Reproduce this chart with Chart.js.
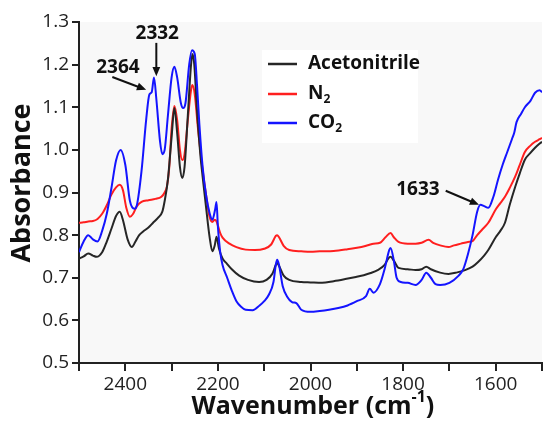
<!DOCTYPE html>
<html>
<head>
<meta charset="utf-8">
<script src="https://cdn.jsdelivr.net/npm/chart.js@4/dist/chart.umd.min.js"></script>
<style>
  html, body { margin: 0; padding: 0; background: #ffffff; }
  #wrap { width: 544px; height: 424px; }
</style>
</head>
<body>
<div id="wrap"><canvas id="myChart" width="544" height="424"></canvas></div>
<script>
// wavenumber (cm-1) and absorbance, one pair of arrays per spectrum
const acnWn = [2500, 2490, 2480, 2470, 2462, 2450, 2440, 2430, 2420, 2412, 2405, 2395, 2386, 2378, 2370, 2362, 2350, 2340, 2330, 2320, 2315, 2308, 2300, 2294, 2288, 2282, 2277, 2272, 2265, 2258, 2255, 2251, 2245, 2238, 2233, 2225, 2218, 2212, 2207, 2203, 2198, 2190, 2182, 2170, 2154, 2135, 2111, 2095, 2082, 2075, 2072, 2068, 2058, 2046, 2020, 2000, 1975, 1950, 1925, 1902, 1885, 1870, 1855, 1840, 1832, 1827, 1820, 1810, 1790, 1773, 1760, 1750, 1740, 1720, 1702, 1685, 1666, 1650, 1638, 1625, 1616, 1600, 1590, 1580, 1570, 1558, 1548, 1537, 1525, 1515, 1505, 1500]
const acnAbs = [0.745, 0.750, 0.757, 0.752, 0.749, 0.760, 0.785, 0.815, 0.845, 0.855, 0.835, 0.790, 0.772, 0.785, 0.800, 0.808, 0.818, 0.829, 0.840, 0.855, 0.880, 0.930, 1.030, 1.098, 1.040, 0.960, 0.934, 0.960, 1.080, 1.200, 1.225, 1.200, 1.090, 0.990, 0.937, 0.860, 0.796, 0.762, 0.775, 0.796, 0.770, 0.745, 0.735, 0.720, 0.705, 0.695, 0.690, 0.695, 0.710, 0.730, 0.735, 0.728, 0.705, 0.695, 0.690, 0.689, 0.688, 0.692, 0.697, 0.702, 0.706, 0.711, 0.718, 0.730, 0.745, 0.749, 0.740, 0.723, 0.720, 0.718, 0.720, 0.726, 0.720, 0.712, 0.709, 0.712, 0.718, 0.726, 0.737, 0.752, 0.765, 0.795, 0.810, 0.829, 0.870, 0.913, 0.945, 0.977, 0.993, 1.005, 1.015, 1.019]

const n2Wn = [2500, 2490, 2480, 2470, 2460, 2450, 2440, 2430, 2420, 2412, 2405, 2398, 2390, 2383, 2375, 2365, 2350, 2335, 2322, 2315, 2310, 2305, 2300, 2294, 2288, 2282, 2277, 2272, 2265, 2258, 2255, 2250, 2243, 2233, 2225, 2218, 2212, 2207, 2203, 2195, 2190, 2175, 2160, 2140, 2120, 2100, 2085, 2075, 2072, 2068, 2058, 2046, 2020, 2000, 1980, 1950, 1920, 1890, 1874, 1864, 1850, 1838, 1827, 1820, 1810, 1790, 1773, 1760, 1745, 1735, 1720, 1702, 1690, 1675, 1660, 1650, 1640, 1630, 1616, 1600, 1590, 1580, 1570, 1558, 1548, 1537, 1525, 1515, 1505, 1500]
const n2Abs = [0.829, 0.830, 0.832, 0.833, 0.838, 0.850, 0.870, 0.895, 0.912, 0.918, 0.905, 0.865, 0.843, 0.850, 0.868, 0.878, 0.882, 0.885, 0.890, 0.900, 0.915, 0.960, 1.050, 1.103, 1.070, 1.000, 0.976, 0.990, 1.070, 1.140, 1.152, 1.130, 1.050, 0.953, 0.890, 0.843, 0.831, 0.836, 0.832, 0.805, 0.794, 0.780, 0.772, 0.766, 0.765, 0.768, 0.778, 0.798, 0.800, 0.795, 0.775, 0.765, 0.762, 0.761, 0.762, 0.763, 0.767, 0.772, 0.777, 0.780, 0.782, 0.795, 0.805, 0.795, 0.784, 0.780, 0.780, 0.782, 0.789, 0.782, 0.776, 0.772, 0.776, 0.780, 0.784, 0.786, 0.800, 0.812, 0.829, 0.860, 0.875, 0.890, 0.910, 0.937, 0.965, 0.995, 1.010, 1.019, 1.025, 1.028]

const co2Wn = [2500, 2490, 2480, 2470, 2460, 2450, 2440, 2430, 2420, 2410, 2400, 2390, 2380, 2375, 2365, 2355, 2348, 2343, 2338, 2333, 2325, 2320, 2315, 2308, 2300, 2294, 2288, 2280, 2275, 2270, 2262, 2256, 2250, 2245, 2240, 2233, 2225, 2218, 2212, 2206, 2203, 2200, 2195, 2190, 2180, 2170, 2160, 2150, 2140, 2125, 2110, 2100, 2090, 2080, 2075, 2072, 2068, 2060, 2050, 2040, 2030, 2020, 2000, 1980, 1960, 1940, 1920, 1900, 1880, 1872, 1864, 1850, 1840, 1830, 1827, 1820, 1814, 1805, 1790, 1773, 1760, 1750, 1740, 1730, 1720, 1700, 1680, 1670, 1660, 1650, 1640, 1633, 1625, 1616, 1605, 1595, 1585, 1575, 1565, 1560, 1555, 1545, 1537, 1525, 1515, 1505, 1500]
const co2Abs = [0.760, 0.785, 0.800, 0.790, 0.785, 0.810, 0.850, 0.910, 0.975, 1.000, 0.965, 0.880, 0.862, 0.870, 0.950, 1.070, 1.130, 1.135, 1.170, 1.120, 1.020, 0.990, 1.000, 1.080, 1.170, 1.195, 1.170, 1.110, 1.098, 1.110, 1.200, 1.234, 1.225, 1.150, 1.060, 0.960, 0.890, 0.852, 0.836, 0.860, 0.878, 0.820, 0.760, 0.730, 0.700, 0.670, 0.645, 0.632, 0.625, 0.624, 0.635, 0.645, 0.660, 0.690, 0.730, 0.742, 0.730, 0.680, 0.655, 0.643, 0.640, 0.625, 0.620, 0.622, 0.625, 0.629, 0.635, 0.645, 0.657, 0.674, 0.665, 0.685, 0.720, 0.765, 0.770, 0.740, 0.700, 0.690, 0.688, 0.683, 0.695, 0.712, 0.700, 0.685, 0.683, 0.688, 0.705, 0.720, 0.755, 0.800, 0.855, 0.871, 0.868, 0.864, 0.890, 0.930, 0.965, 0.995, 1.025, 1.040, 1.065, 1.085, 1.100, 1.115, 1.134, 1.140, 1.135]

const seriesNames = ['Acetonitrile', 'N2', 'CO2']
const seriesColors = ['#262626', '#ff1f1f', '#1414ff']

// peak labels: [text, label x, label y, arrow from x, from y, to x, to y] in data units
const peakNotes = [
    ['2364', 2416, 1.192, 2428, 1.171, 2355, 1.141],
    ['2332', 2331, 1.272, 2333, 1.251, 2333, 1.173],
    ['1633', 1768, 0.906, 1708, 0.904, 1636, 0.871]
]

function toPoints(xs, ys) {
    return xs.map((x, i) => ({x: x, y: ys[i]}))
}

// text with a small lowered (or raised) part, e.g. N2, CO2, cm-1
function drawScript(ctx, x, y, base, script, size, lower, tail) {
    ctx.font = 'bold ' + size + 'px "Open Sans"'
    ctx.fillText(base, x, y)
    let w = ctx.measureText(base).width
    ctx.font = 'bold ' + Math.round(size * 0.62) + 'px "Open Sans"'
    ctx.fillText(script, x + w, y + (lower ? size * 0.28 : -size * 0.38))
    let w2 = ctx.measureText(script).width
    if (tail) {
        ctx.font = 'bold ' + size + 'px "Open Sans"'
        ctx.fillText(tail, x + w + w2, y)
    }
}

function arrow(ctx, x1, y1, x2, y2) {
    const a = Math.atan2(y2 - y1, x2 - x1)
    const hl = 10
    ctx.beginPath()
    ctx.moveTo(x1, y1)
    ctx.lineTo(x2 - Math.cos(a) * hl * 0.8, y2 - Math.sin(a) * hl * 0.8)
    ctx.stroke()
    ctx.beginPath()
    ctx.moveTo(x2, y2)
    ctx.lineTo(x2 - hl * Math.cos(a - 0.4), y2 - hl * Math.sin(a - 0.4))
    ctx.lineTo(x2 - hl * Math.cos(a + 0.4), y2 - hl * Math.sin(a + 0.4))
    ctx.closePath()
    ctx.fill()
}

const overlay = {
    id: 'overlay',
    beforeDraw(chart) {
        const ctx = chart.ctx
        const ca = chart.chartArea
        ctx.save()
        ctx.fillStyle = '#f8f8f8'
        ctx.fillRect(ca.left, ca.top, ca.right - ca.left, ca.bottom - ca.top)
        ctx.fillStyle = '#ffffff'
        ctx.fillRect(262, 50, 156, 93)
        ctx.restore()
    },
    afterDraw(chart) {
        const ctx = chart.ctx
        const xs = chart.scales.x
        const ys = chart.scales.y
        ctx.save()
        ctx.fillStyle = '#111'
        ctx.textBaseline = 'middle'

        // axis titles
        ctx.textAlign = 'left'
        ctx.font = 'bold 25px "Open Sans"'
        const t1 = 'Wavenumber (cm'
        const w1 = ctx.measureText(t1).width
        ctx.font = 'bold 15px "Open Sans"'
        const w2 = ctx.measureText('-1').width
        ctx.font = 'bold 25px "Open Sans"'
        const w3 = ctx.measureText(')').width
        const cx = (chart.chartArea.left + chart.chartArea.right) / 2 + 2
        drawScript(ctx, cx - (w1 + w2 + w3) / 2, 407, t1, '-1', 25, false, ')')

        ctx.save()
        ctx.translate(22, 183)
        ctx.rotate(-Math.PI / 2)
        ctx.textAlign = 'center'
        ctx.font = 'bold 27px "Open Sans"'
        ctx.fillText('Absorbance', 0, 0)
        ctx.restore()

        // legend
        const ly = [64, 94, 123]
        ctx.lineWidth = 2.5
        ctx.textAlign = 'left'
        seriesNames.forEach((name, i) => {
            ctx.strokeStyle = seriesColors[i]
            ctx.beginPath()
            ctx.moveTo(268, ly[i])
            ctx.lineTo(297, ly[i])
            ctx.stroke()
            ctx.fillStyle = '#111'
            if (name.endsWith('2')) {
                drawScript(ctx, 308, ly[i], name.slice(0, -1), '2', 19, true)
            } else {
                ctx.font = 'bold 19px "Open Sans"'
                ctx.fillText(name, 308, ly[i])
            }
        })

        // peak labels with arrows
        ctx.strokeStyle = '#111'
        ctx.fillStyle = '#111'
        ctx.lineWidth = 2
        ctx.textAlign = 'center'
        peakNotes.forEach(n => {
            ctx.font = 'bold 19px "Open Sans"'
            ctx.fillText(n[0], xs.getPixelForValue(n[1]), ys.getPixelForValue(n[2]))
            arrow(ctx, xs.getPixelForValue(n[3]), ys.getPixelForValue(n[4]),
                xs.getPixelForValue(n[5]), ys.getPixelForValue(n[6]))
        })
        ctx.restore()
    }
}

function drawChart() {
    const ctx = document.getElementById('myChart')
    const tickFont = {family: '"Open Sans"', size: 19}

    const data = {
        datasets: [{
            label: seriesNames[0],
            data: toPoints(acnWn, acnAbs),
            borderColor: seriesColors[0],
            order: 2
        }, {
            label: seriesNames[1],
            data: toPoints(n2Wn, n2Abs),
            borderColor: seriesColors[1],
            order: 3
        }, {
            label: seriesNames[2],
            data: toPoints(co2Wn, co2Abs),
            borderColor: seriesColors[2],
            order: 1
        }]
    }
    data.datasets.forEach(d => {
        d.showLine = true
        d.borderWidth = 2
        d.pointRadius = 0
        d.cubicInterpolationMode = 'monotone'
        d.fill = false
    })

    const config = {
        type: 'scatter',
        data: data,
        options: {
            responsive: false,
            animation: false,
            devicePixelRatio: 1,
            layout: {padding: {top: 22, right: 0, left: 0, bottom: 0}},
            plugins: {legend: {display: false}, tooltip: {enabled: false}},
            scales: {
                x: {
                    type: 'linear',
                    reverse: true,
                    min: 1500,
                    max: 2500,
                    ticks: {
                        stepSize: 100,
                        autoSkip: false,
                        maxRotation: 0,
                        padding: 2,
                        color: '#222',
                        font: tickFont,
                        callback: v => (v % 200 === 0 ? v : '')
                    },
                    grid: {drawOnChartArea: false, drawTicks: true, tickLength: 8, color: '#222', lineWidth: 2},
                    border: {color: '#222', width: 2},
                    afterFit: s => { s.height = 61 }
                },
                y: {
                    min: 0.5,
                    max: 1.3,
                    ticks: {
                        stepSize: 0.1,
                        padding: 3,
                        color: '#222',
                        font: tickFont,
                        callback: v => Number(v).toFixed(1)
                    },
                    grid: {drawOnChartArea: false, drawTicks: true, tickLength: 7, color: '#222', lineWidth: 2},
                    border: {color: '#222', width: 2},
                    afterFit: s => { s.width = 79 }
                }
            }
        },
        plugins: [overlay]
    }

    new Chart(ctx, config)
}

document.addEventListener('DOMContentLoaded', drawChart)
</script>
</body>
</html>
